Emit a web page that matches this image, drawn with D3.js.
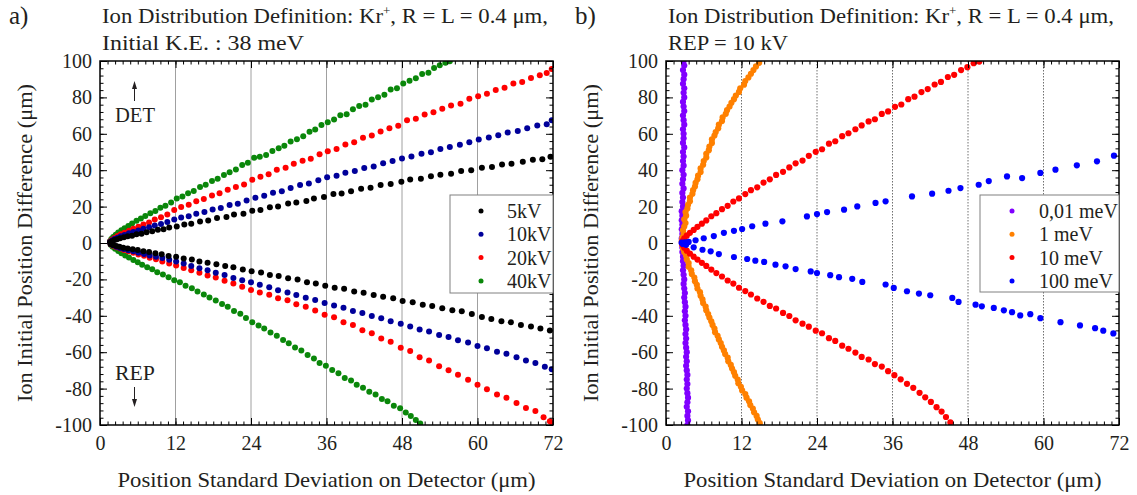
<!DOCTYPE html>
<html>
<head>
<meta charset="utf-8">
<script src="https://cdnjs.cloudflare.com/ajax/libs/d3/7.8.5/d3.min.js"></script>
<style>
  body { margin: 0; background: #fff; }
</style>
</head>
<body>
<div id="chart_area"></div>
<script>

var serif = "Liberation Serif";

// axis ticks
var xTicks = [0, 12, 24, 36, 48, 60, 72];
var yTicks = [-100, -80, -60, -40, -20, 0, 20, 40, 60, 80, 100];

// ---- panel a) : Kr+, initial K.E. 38 meV, different REP voltages ----
var a5kvUp = [[1.6,0.4],[1.9,1.0],[2.3,1.6],[2.7,2.1],[3.2,2.6],[3.8,3.1],[4.4,3.7],[5.1,4.0],[5.8,4.8],[6.6,5.1],[7.4,5.9],[8.3,6.4],[9.2,7.3],[10.1,7.6],[11.0,8.5],[12.2,9.0],[13.4,10.2],[14.5,10.6],[15.9,11.8],[17.2,12.4],[18.6,13.8],[20.1,14.3],[21.3,15.6],[22.8,16.1],[24.2,17.7],[25.5,18.2],[27.0,19.6],[28.3,20.0],[29.9,21.7],[31.2,22.3],[32.8,23.1],[34.0,24.4],[35.6,25.3],[37.1,26.9],[38.4,27.2],[39.9,28.5],[41.5,29.8],[43.0,30.3],[44.6,31.9],[46.2,32.4],[47.9,33.6],[49.3,34.9],[51.0,35.3],[52.6,36.7],[54.1,37.5],[55.8,38.1],[57.4,39.6],[59.0,40.0],[60.7,41.3],[62.3,41.8],[63.9,43.2],[65.4,43.5],[67.2,44.6],[68.8,45.7],[70.3,46.0],[71.6,47.4]];
var a5kvDown = [[1.7,-0.5],[2.1,-1.1],[2.6,-1.6],[3.1,-2.0],[3.7,-2.6],[4.4,-3.0],[5.2,-3.5],[6.0,-3.9],[6.9,-4.6],[7.8,-5.0],[8.8,-5.7],[9.8,-6.2],[10.9,-7.1],[12.1,-7.6],[13.3,-8.5],[14.6,-9.1],[15.8,-10.2],[17.1,-10.8],[18.5,-11.7],[19.9,-12.6],[21.2,-13.3],[22.7,-14.6],[24.1,-15.5],[25.6,-16.2],[27.0,-17.6],[28.4,-18.1],[29.9,-19.4],[31.4,-20.0],[32.9,-21.5],[34.3,-22.3],[35.8,-23.5],[37.3,-24.6],[38.8,-25.1],[40.4,-26.7],[41.9,-27.3],[43.5,-28.6],[45.0,-29.5],[46.6,-30.4],[48.1,-31.8],[49.7,-32.5],[51.3,-33.9],[52.8,-34.6],[54.4,-35.8],[56.0,-36.9],[57.5,-37.5],[59.1,-39.0],[60.7,-40.6],[62.2,-41.8],[63.8,-43.0],[65.3,-43.6],[66.9,-45.0],[68.5,-45.9],[70.0,-47.0],[71.5,-48.1]];
var a10kvUp = [[1.6,0.6],[1.9,1.4],[2.3,2.2],[2.8,2.9],[3.3,3.7],[3.9,4.4],[4.6,5.3],[5.3,6.0],[6.1,6.9],[6.9,7.8],[7.8,8.6],[8.7,9.6],[9.7,10.4],[10.7,11.6],[11.8,12.9],[12.9,14.0],[14.1,14.7],[15.3,16.1],[16.6,17.0],[17.9,18.4],[19.2,19.2],[20.6,20.9],[21.9,21.6],[23.3,23.3],[24.7,24.9],[26.1,26.0],[27.5,27.6],[28.9,28.4],[30.3,30.2],[31.8,31.8],[33.2,32.7],[34.7,34.5],[36.1,36.1],[37.6,37.0],[39.0,38.6],[40.5,39.5],[42.0,41.2],[43.5,42.0],[45.0,43.8],[46.5,45.1],[48.0,46.4],[49.5,47.5],[51.1,49.1],[52.6,49.8],[54.1,51.6],[55.6,52.7],[57.2,54.0],[58.7,55.4],[60.2,56.9],[61.8,58.0],[63.3,59.2],[64.8,60.7],[66.4,61.6],[67.9,63.1],[69.5,64.5],[71.0,65.3],[71.8,67.4]];
var a10kvDown = [[1.7,-0.6],[2.1,-1.3],[2.6,-2.0],[3.2,-2.7],[3.8,-3.3],[4.5,-4.0],[5.3,-4.6],[6.1,-5.4],[7.0,-6.0],[7.9,-6.8],[8.9,-7.6],[9.9,-8.3],[11.0,-9.2],[12.1,-10.1],[13.3,-11.3],[14.5,-12.6],[15.8,-13.9],[17.1,-15.0],[18.4,-16.4],[19.8,-17.6],[21.2,-19.2],[22.6,-20.4],[24.0,-21.5],[25.4,-23.0],[26.9,-24.3],[28.3,-25.9],[29.8,-27.2],[31.2,-28.6],[32.7,-30.1],[34.2,-31.3],[35.7,-33.0],[37.2,-34.3],[38.7,-35.6],[40.2,-37.3],[41.7,-38.4],[43.2,-40.1],[44.7,-41.3],[46.2,-43.0],[47.8,-44.4],[49.3,-45.9],[50.8,-47.5],[52.3,-48.6],[53.9,-50.5],[55.4,-51.6],[56.9,-53.4],[58.5,-54.7],[60.0,-56.6],[61.5,-57.8],[63.1,-59.7],[64.6,-60.9],[66.2,-62.8],[67.7,-64.6],[69.2,-65.9],[70.7,-68.0],[71.8,-69.3]];
var a20kvUp = [[1.6,0.8],[1.9,1.8],[2.3,2.8],[2.8,3.8],[3.3,4.8],[3.9,5.7],[4.6,6.7],[5.3,7.8],[6.1,8.9],[6.9,10.2],[7.8,11.3],[8.7,12.9],[9.7,14.2],[10.7,15.6],[11.8,18.1],[12.9,19.8],[14.1,21.0],[15.3,22.9],[16.5,24.2],[17.8,26.1],[19.0,27.3],[20.3,29.3],[21.6,30.8],[22.9,32.1],[24.2,34.8],[25.5,36.4],[26.8,37.8],[28.1,40.2],[29.5,41.3],[30.8,43.6],[32.2,45.2],[33.5,46.3],[34.9,48.8],[36.2,50.4],[37.6,51.7],[39.0,54.1],[40.4,55.3],[41.8,57.8],[43.2,59.0],[44.6,61.2],[46.0,63.0],[47.4,64.4],[48.8,67.5],[50.2,68.3],[51.6,70.6],[53.0,71.9],[54.4,73.8],[55.8,75.6],[57.3,76.5],[58.7,79.3],[60.1,80.7],[61.5,82.0],[62.9,84.1],[64.3,85.3],[65.7,87.6],[67.1,88.5],[68.5,90.7],[69.9,92.2],[71.0,93.4],[71.8,95.6]];
var a20kvDown = [[1.7,-0.7],[2.1,-1.5],[2.6,-2.3],[3.2,-3.0],[3.8,-3.8],[4.5,-4.5],[5.3,-5.3],[6.1,-6.3],[7.0,-7.0],[7.9,-8.1],[8.9,-8.9],[9.9,-10.1],[11.0,-11.2],[12.1,-12.4],[13.3,-13.8],[14.5,-15.0],[15.8,-16.3],[17.1,-17.9],[18.4,-19.0],[19.8,-20.8],[21.2,-22.3],[22.6,-24.0],[24.0,-25.8],[25.4,-27.2],[26.9,-28.5],[28.3,-30.4],[29.8,-31.5],[31.2,-33.6],[32.7,-35.0],[34.2,-37.1],[35.7,-39.4],[37.2,-40.8],[38.7,-43.5],[40.2,-45.1],[41.7,-47.9],[43.2,-49.6],[44.7,-52.5],[46.2,-54.3],[47.8,-57.6],[49.3,-59.4],[50.8,-62.8],[52.3,-64.5],[53.9,-67.7],[55.4,-69.9],[56.9,-72.4],[58.5,-75.1],[60.0,-77.9],[61.5,-80.3],[63.1,-83.2],[64.6,-85.0],[66.2,-87.9],[67.7,-90.6],[69.2,-92.3],[70.5,-95.8],[71.5,-97.9],[71.9,-99.2]];
var a40kvUp = [[1.6,1.0],[1.8,2.2],[2.1,3.3],[2.5,4.6],[2.9,5.8],[3.4,7.0],[3.9,8.1],[4.5,9.4],[5.1,10.7],[5.8,12.2],[6.5,13.4],[7.2,14.9],[8.0,16.4],[8.8,17.6],[9.6,19.3],[10.4,20.5],[11.3,22.2],[12.2,24.4],[13.1,25.6],[14.0,27.4],[14.9,28.6],[15.9,30.8],[16.8,32.0],[17.8,34.1],[18.7,35.3],[19.7,37.3],[20.6,38.9],[21.6,40.4],[22.6,42.8],[23.5,44.1],[24.5,46.9],[25.4,47.4],[26.4,48.3],[27.4,50.6],[28.4,52.1],[29.3,53.4],[30.3,55.8],[31.3,57.0],[32.3,58.7],[33.3,61.1],[34.2,62.3],[35.2,64.8],[36.2,66.4],[37.2,67.9],[38.2,70.2],[39.2,70.8],[40.2,73.5],[41.2,75.3],[42.2,76.0],[43.2,78.8],[44.2,80.1],[45.2,81.4],[46.2,84.3],[47.2,85.0],[48.2,87.6],[49.2,89.1],[50.2,90.5],[51.2,92.8],[52.2,93.6],[53.1,96.2],[54.0,97.7],[54.9,99.1],[55.6,99.8]];
var a40kvDown = [[1.7,-1.0],[2.0,-2.1],[2.4,-3.2],[2.9,-4.4],[3.4,-5.6],[4.0,-6.9],[4.6,-8.0],[5.3,-9.4],[6.0,-10.6],[6.7,-12.0],[7.5,-13.3],[8.3,-14.4],[9.1,-16.1],[10.0,-17.3],[10.9,-18.8],[11.8,-20.4],[12.7,-21.6],[13.6,-23.5],[14.6,-24.8],[15.5,-26.7],[16.5,-28.3],[17.4,-29.9],[18.4,-31.6],[19.4,-33.5],[20.3,-35.0],[21.3,-37.4],[22.3,-38.9],[23.2,-41.2],[24.2,-43.6],[25.2,-45.3],[26.1,-47.0],[27.1,-49.2],[28.1,-51.0],[29.1,-53.3],[30.0,-55.1],[31.0,-57.4],[32.0,-59.0],[33.0,-61.6],[34.0,-63.5],[34.9,-65.9],[35.9,-67.4],[36.9,-69.8],[37.9,-71.5],[38.9,-74.2],[39.9,-75.5],[40.8,-77.9],[41.8,-79.6],[42.8,-81.7],[43.8,-83.2],[44.8,-85.7],[45.7,-86.9],[46.7,-89.4],[47.7,-90.8],[48.6,-93.1],[49.4,-95.0],[50.2,-97.3],[50.9,-99.2]];

// ---- panel b) : Kr+, REP = 10 kV, different initial K.E. ----
var b001mev = [[2.8,100],[2.9,97.5],[2.7,95],[2.9,92.5],[2.8,90],[2.7,87.5],[2.9,85],[2.8,82.5],[2.9,80],[2.7,77.5],[2.8,75],[2.9,72.5],[2.7,70],[2.8,67.5],[2.9,65],[2.7,62.5],[2.8,60],[2.8,57.5],[2.7,55],[2.9,52.5],[2.7,50],[2.8,47.5],[2.7,45],[2.8,42.5],[2.6,40],[2.8,37.5],[2.7,35],[2.6,32.5],[2.8,30],[2.6,27.5],[2.7,25],[2.6,22.5],[2.7,20],[2.5,17.5],[2.6,15],[2.5,12.5],[2.6,10],[2.5,7.5],[2.6,5],[2.5,2.5],[2.5,0],[2.6,-2.5],[2.6,-5],[2.7,-7.5],[2.7,-10],[2.8,-12.5],[2.7,-15],[2.8,-17.5],[2.9,-20],[2.8,-22.5],[2.9,-25],[3.0,-27.5],[2.9,-30],[3.0,-32.5],[3.1,-35],[3.0,-37.5],[3.1,-40],[3.0,-42.5],[3.1,-45],[3.2,-47.5],[3.1,-50],[3.2,-52.5],[3.1,-55],[3.2,-57.5],[3.3,-60],[3.2,-62.5],[3.3,-65],[3.2,-67.5],[3.3,-70],[3.4,-72.5],[3.3,-75],[3.4,-77.5],[3.3,-80],[3.4,-82.5],[3.5,-85],[3.4,-87.5],[3.3,-90],[3.5,-92.5],[3.4,-95],[3.5,-97.5],[3.4,-100]];
var b1mevUp = [[2.5,1],[2.6,3],[2.8,5],[2.7,7],[2.9,9],[3.1,11],[2.9,13],[3.2,15],[3.1,17],[3.4,19],[3.5,21],[3.8,23],[3.8,25],[4.2,27],[4.3,29],[4.6,31],[4.7,33],[5.0,35],[5.1,37],[5.5,39],[5.5,41],[5.9,43],[6.0,45],[6.4,47],[6.4,49],[6.8,51],[6.9,53],[7.3,55],[7.3,57],[7.7,59],[7.9,61],[8.3,63],[8.4,65],[8.9,67],[9.0,69],[9.5,71],[9.7,73],[10.1,75],[10.4,77],[10.8,79],[11.1,81],[11.6,83],[11.8,85],[12.4,87],[12.6,89],[13.1,91],[13.5,93],[13.9,95],[14.3,97],[14.8,99]];
var b1mevDown = [[2.6,-1],[2.7,-3],[2.9,-5],[3.2,-7],[3.3,-9],[3.6,-11],[3.6,-13],[4.0,-15],[4.1,-17],[4.5,-19],[4.6,-21],[4.9,-23],[5.0,-25],[5.4,-27],[5.5,-29],[5.8,-31],[5.9,-33],[6.3,-35],[6.4,-37],[6.7,-39],[6.9,-41],[7.2,-43],[7.4,-45],[7.7,-47],[7.8,-49],[8.2,-51],[8.4,-53],[8.7,-55],[8.9,-57],[9.2,-59],[9.4,-61],[9.8,-63],[9.9,-65],[10.3,-67],[10.5,-69],[10.8,-71],[11.0,-73],[11.4,-75],[11.5,-77],[11.9,-79],[12.1,-81],[12.6,-83],[12.8,-85],[13.2,-87],[13.4,-89],[13.8,-91],[14.0,-93],[14.4,-95],[14.6,-97],[14.9,-99]];
var b10mevUp = [[2.6,1.0],[2.9,2.5],[3.3,4.0],[3.8,5.6],[4.4,7.2],[5.0,8.9],[5.7,10.6],[6.4,12.4],[7.2,14.7],[8.0,16.4],[8.9,18.6],[9.8,20.4],[10.7,22.8],[11.6,24.5],[12.6,26.9],[13.5,29.0],[14.5,30.6],[15.5,33.2],[16.5,35.0],[17.5,37.4],[18.6,39.1],[19.6,41.5],[20.6,43.8],[21.7,45.3],[22.7,47.9],[23.8,50.1],[24.8,51.5],[25.9,54.6],[26.9,55.9],[28.0,58.7],[29.0,60.3],[30.1,62.5],[31.1,64.6],[32.2,66.8],[33.2,68.0],[34.3,70.9],[35.3,72.3],[36.4,74.8],[37.4,76.1],[38.5,79.0],[39.5,80.4],[40.6,82.9],[41.6,84.6],[42.7,87.1],[43.7,88.5],[44.8,91.2],[45.8,92.4],[46.9,95.0],[47.9,96.6],[48.9,98.8],[49.8,99.7]];
var b10mevDown = [[2.6,-1.0],[2.9,-2.6],[3.3,-4.2],[3.8,-5.8],[4.4,-7.5],[5.0,-9.1],[5.7,-10.9],[6.4,-12.6],[7.2,-14.6],[8.0,-16.5],[8.9,-18.4],[9.8,-20.6],[10.7,-22.3],[11.6,-24.6],[12.6,-26.4],[13.5,-28.3],[14.5,-30.5],[15.5,-32.3],[16.5,-34.6],[17.5,-36.0],[18.6,-38.4],[19.6,-40.1],[20.6,-42.5],[21.7,-44.3],[22.7,-46.0],[23.8,-48.2],[24.8,-49.6],[25.9,-52.3],[26.9,-53.8],[28.0,-56.4],[29.0,-58.1],[30.1,-60.2],[31.1,-62.6],[32.2,-64.0],[33.2,-66.5],[34.3,-67.9],[35.3,-70.4],[36.3,-72.6],[37.3,-74.9],[38.3,-77.4],[39.3,-79.6],[40.3,-82.3],[41.2,-84.8],[42.1,-87.3],[43.0,-90.2],[43.8,-92.6],[44.5,-95.6],[45.2,-98.6]];
var b100mevUp = [[2.5,0.2],[3.0,0.4],[3.6,0.6],[4.7,1.5],[6.0,2.6],[7.6,3.8],[9.2,5.6],[10.8,6.7],[12.1,7.7],[13.7,9.2],[15.8,10.6],[18.5,11.9],[22.4,14.6],[24.0,15.9],[25.6,17.0],[28.3,18.3],[30.4,20.1],[33.3,22.0],[34.9,22.9],[39.1,25.6],[42.3,27.1],[44.9,28.7],[46.8,30.2],[49.7,32.0],[51.3,34.0],[54.2,36.6],[56.6,35.7],[59.5,38.5],[61.9,40.3],[65.3,42.7],[68.5,44.9],[71.2,48.0]];
var b100mevDown = [[2.7,-0.5],[3.2,-1.0],[4.4,-2.4],[5.8,-3.7],[7.1,-4.6],[8.4,-6.1],[10.8,-7.7],[12.9,-8.8],[14.2,-9.7],[15.6,-10.4],[17.4,-11.9],[19.0,-12.8],[20.6,-14.3],[23.0,-15.6],[24.0,-16.5],[26.1,-17.7],[27.5,-18.8],[29.6,-19.7],[31.2,-21.4],[34.9,-22.8],[36.2,-24.7],[38.3,-26.5],[40.2,-27.8],[42.0,-28.7],[45.5,-30.2],[46.5,-32.4],[49.2,-33.9],[50.2,-34.8],[52.1,-35.7],[53.7,-37.0],[55.0,-38.0],[56.3,-39.8],[57.9,-39.1],[59.5,-41.3],[62.7,-43.5],[65.8,-45.3],[68.2,-46.8],[69.5,-48.2],[71.1,-49.7]];

var svg = d3.select("#chart_area")
    .append("svg")
        .attr("width", 1137)
        .attr("height", 495)
        .attr("font-family", serif);

drawPanel({
    id: "a",
    left: 100, top: 61, width: 453, height: 364,
    letter: "a)",
    title2: "Initial K.E. : 38 meV", title2Len: 202,
    gridColor: "#a0a0a0", gridDash: null,
    legend: {x: 350, y: 134, w: 103, h: 98, dot: 31, text: 57},
    radius: 3,
    series: [
        {name: "5kV",  color: "#000000", points: a5kvUp.concat(a5kvDown)},
        {name: "10kV", color: "#00009a", points: a10kvUp.concat(a10kvDown)},
        {name: "20kV", color: "#ff0000", points: a20kvUp.concat(a20kvDown)},
        {name: "40kV", color: "#0a870a", points: a40kvUp.concat(a40kvDown)}
    ],
    // green is underneath, black on top
    order: [3, 2, 1, 0],
    arrows: true
});

drawPanel({
    id: "b",
    left: 666, top: 61, width: 453, height: 364,
    letter: "b)",
    title2: "REP = 10 kV", title2Len: 120,
    gridColor: "#707070", gridDash: "1.5,1.5",
    legend: {x: 314, y: 134, w: 139, h: 97, dot: 32, text: 59},
    radius: 3.1,
    series: [
        {name: "0,01 meV", color: "#8000ff", points: b001mev},
        {name: "1 meV",    color: "#ff8000", points: b1mevUp.concat(b1mevDown)},
        {name: "10 meV",   color: "#ff0000", points: b10mevUp.concat(b10mevDown)},
        {name: "100 meV",  color: "#0000ff", points: b100mevUp.concat(b100mevDown)}
    ],
    order: [0, 1, 2, 3],
    arrows: false
});

// one plain family name on every text
svg.selectAll("text")
    .attr("font-family", serif)
    .style("font-family", serif)
    .attr("fill", "#231f20");

function drawPanel(p){

    var width = p.width,
        height = p.height;

    var g = svg.append("g")
        .attr("transform", "translate(" + p.left + "," + p.top + ")");

    var x = d3.scaleLinear().domain([0, 72]).range([0, width]);
    var y = d3.scaleLinear().domain([-100, 100]).range([height, 0]);

    //vertical grid lines
    g.selectAll(".grid")
        .data(xTicks.slice(1, -1))
        .enter().append("line")
            .attr("x1", function(d){ return x(d); })
            .attr("x2", function(d){ return x(d); })
            .attr("y1", 0)
            .attr("y2", height)
            .attr("stroke", p.gridColor)
            .attr("stroke-width", 1)
            .attr("stroke-dasharray", p.gridDash);

    //clip the dots to the frame
    g.append("clipPath")
        .attr("id", "clip-" + p.id)
        .append("rect")
            .attr("width", width)
            .attr("height", height);

    var dots = g.append("g").attr("clip-path", "url(#clip-" + p.id + ")");

    p.order.forEach(function(i){
        var s = p.series[i];
        dots.selectAll(null)
            .data(s.points)
            .enter().append("circle")
                .attr("cx", function(d){ return x(d[0]); })
                .attr("cy", function(d){ return y(d[1]); })
                .attr("r", p.radius)
                .attr("fill", s.color);
    });

    //minor + major ticks on all four sides, pointing inward
    var xMinor = d3.range(0, 72.01, 1.2),
        yMinor = d3.range(-100, 100.01, 4);

    function axisGroup(axis, transform){
        var a = g.append("g")
            .attr("transform", transform)
            .call(axis);
        a.select(".domain").remove();
        a.attr("font-family", serif).attr("font-size", 20);
        a.selectAll("line").attr("stroke", "#000").attr("stroke-width", 1);
        a.selectAll("text").attr("font-size", 20);
        return a;
    }

    axisGroup(d3.axisBottom(x).tickValues(xMinor).tickSize(-3.5).tickFormat(""), "translate(0," + height + ")");
    axisGroup(d3.axisTop(x).tickValues(xMinor).tickSize(-3.5).tickFormat(""), "translate(0,0)");
    axisGroup(d3.axisLeft(y).tickValues(yMinor).tickSize(-3.5).tickFormat(""), "translate(0,0)");
    axisGroup(d3.axisRight(y).tickValues(yMinor).tickSize(-3.5).tickFormat(""), "translate(" + width + ",0)");

    axisGroup(d3.axisBottom(x).tickValues(xTicks).tickSize(-7).tickPadding(11)
        .tickFormat(function(d){ return String(d); }), "translate(0," + height + ")");
    axisGroup(d3.axisTop(x).tickValues(xTicks).tickSize(-7).tickFormat(""), "translate(0,0)");
    axisGroup(d3.axisLeft(y).tickValues(yTicks).tickSize(-7).tickPadding(8)
        .tickFormat(function(d){ return String(d); }), "translate(0,0)");
    axisGroup(d3.axisRight(y).tickValues(yTicks).tickSize(-7).tickFormat(""), "translate(" + width + ",0)");

    //frame
    g.append("rect")
        .attr("width", width)
        .attr("height", height)
        .attr("fill", "none")
        .attr("stroke", "#000")
        .attr("stroke-width", 1.5);

    //legend
    var lg = g.append("g");
    lg.append("rect")
        .attr("x", p.legend.x)
        .attr("y", p.legend.y)
        .attr("width", p.legend.w)
        .attr("height", p.legend.h)
        .attr("fill", "#fff")
        .attr("stroke", "#808080")
        .attr("stroke-width", 1);

    var rows = lg.selectAll(".row")
        .data(p.series)
        .enter().append("g")
            .attr("transform", function(d, i){
                return "translate(" + p.legend.x + "," + (p.legend.y + 16 + i * 23.3) + ")";
            });
    rows.append("circle")
        .attr("cx", p.legend.dot)
        .attr("r", 2.5)
        .attr("fill", function(d){ return d.color; });
    rows.append("text")
        .attr("x", p.legend.text)
        .attr("dy", "0.35em")
        .attr("font-size", 20)
        .text(function(d){ return d.name; });

    //DET / REP arrows
    if (p.arrows){
        var ax = 34.5;
        g.append("line")
            .attr("x1", ax).attr("x2", ax)
            .attr("y1", 40).attr("y2", 24)
            .attr("stroke", "#231f20").attr("stroke-width", 1);
        g.append("path")
            .attr("d", "M" + (ax - 2.5) + ",28 L" + ax + ",20 L" + (ax + 2.5) + ",28 Z")
            .attr("fill", "#231f20");
        g.append("text")
            .attr("x", 15).attr("y", 61)
            .attr("font-size", 20)
            .attr("textLength", 40)
            .attr("lengthAdjust", "spacingAndGlyphs")
            .text("DET");

        g.append("text")
            .attr("x", 15).attr("y", 319)
            .attr("font-size", 20)
            .attr("textLength", 40)
            .attr("lengthAdjust", "spacingAndGlyphs")
            .text("REP");
        g.append("line")
            .attr("x1", ax).attr("x2", ax)
            .attr("y1", 326).attr("y2", 342)
            .attr("stroke", "#231f20").attr("stroke-width", 1);
        g.append("path")
            .attr("d", "M" + (ax - 2.5) + ",338 L" + ax + ",346 L" + (ax + 2.5) + ",338 Z")
            .attr("fill", "#231f20");
    }

    //x label
    g.append("text")
        .attr("x", width / 2 - 209)
        .attr("y", height + 62)
        .attr("font-size", 21)
        .attr("textLength", 418)
        .attr("lengthAdjust", "spacingAndGlyphs")
        .text("Position Standard Deviation on Detector (\u03bcm)");

    //y label
    g.append("text")
        .attr("x", -(height / 2) - 159)
        .attr("y", -68)
        .attr("font-size", 21)
        .attr("textLength", 318)
        .attr("lengthAdjust", "spacingAndGlyphs")
        .attr("transform", "rotate(-90)")
        .text("Ion Initial Position Difference (\u03bcm)");

    //panel letter and title
    svg.append("text")
        .attr("x", p.left - 91)
        .attr("y", 24)
        .attr("font-size", 25)
        .text(p.letter);

    var t = svg.append("text")
        .attr("x", p.left + 2)
        .attr("y", 23)
        .attr("font-size", 21)
        .attr("textLength", 446)
        .attr("lengthAdjust", "spacingAndGlyphs");
    t.append("tspan").text("Ion Distribution Definition: Kr");
    t.append("tspan").attr("font-size", 12).attr("dy", -8).text("+");
    t.append("tspan").attr("dy", 8).text(", R = L = 0.4 \u03bcm,");

    svg.append("text")
        .attr("x", p.left + 2)
        .attr("y", 50)
        .attr("font-size", 21)
        .attr("textLength", p.title2Len)
        .attr("lengthAdjust", "spacingAndGlyphs")
        .text(p.title2);

}// function drawPanel()

</script>
</body>
</html>
